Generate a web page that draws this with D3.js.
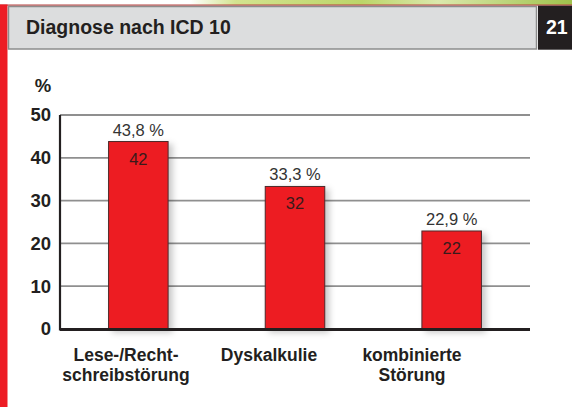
<!DOCTYPE html>
<html>
<head>
<meta charset="utf-8">
<script src="https://cdn.jsdelivr.net/npm/d3@7"></script>
<style>
  html, body { margin: 0; padding: 0; background: #fff; }
  svg { display: block; font-family: "Liberation Sans", Arial, sans-serif; }
</style>
</head>
<body>
<svg id="chart" width="572" height="407"></svg>
<script>
// DATA
const title = "Diagnose nach ICD 10";
const figureNumber = "21";
const unitLabel = "%";
const categories = ["Lese-/Recht-|schreibstörung", "Dyskalkulie", "kombinierte|Störung"];
const percentValues = [43.8, 33.3, 22.9];
const countValues = [42, 32, 22];
const yTicks = [0, 10, 20, 30, 40, 50];

// CANVAS SETUP
const svg = d3.select("#chart");
const W = +svg.attr("width"),
  H = +svg.attr("height");

let margin = { top: 115, right: 42, bottom: 78, left: 60 },
  width = W - margin.left - margin.right,
  height = H - margin.top - margin.bottom;

const defs = svg.append("defs");

const green = defs
  .append("linearGradient")
  .attr("id", "greenStrip")
  .attr("x1", "0%")
  .attr("x2", "100%");
green.append("stop").attr("offset", "0%").attr("stop-color", "#ffffff");
green.append("stop").attr("offset", "12%").attr("stop-color", "#d3e38f");
green.append("stop").attr("offset", "45%").attr("stop-color", "#bcd569");
green.append("stop").attr("offset", "65%").attr("stop-color", "#dbe8ac");
green.append("stop").attr("offset", "100%").attr("stop-color", "#9fc24c");

defs
  .append("filter")
  .attr("id", "barShadow")
  .attr("x", "-20%")
  .attr("y", "-10%")
  .attr("width", "160%")
  .attr("height", "130%")
  .append("feDropShadow")
  .attr("dx", 4)
  .attr("dy", 3)
  .attr("stdDeviation", 3)
  .attr("flood-color", "#000")
  .attr("flood-opacity", 0.22);

// HEADER
svg.append("rect").attr("x", 190).attr("y", 0).attr("width", W - 190).attr("height", 5)
  .attr("fill", "url(#greenStrip)");
svg.append("rect").attr("x", 0).attr("y", 4.5).attr("width", W).attr("height", 1.2)
  .attr("fill", "#b5413f");
svg.append("rect").attr("x", 0).attr("y", 4.5).attr("width", 7.5).attr("height", H - 4.5)
  .attr("fill", "#ed1c24");

svg.append("rect")
  .attr("x", 8.5).attr("y", 6.5).attr("width", 528).attr("height", 42.5)
  .attr("fill", "#dcddde")
  .attr("stroke", "#8c8c8c")
  .attr("stroke-width", 1.5);
svg.append("rect")
  .attr("x", 538).attr("y", 5.7).attr("width", W - 538).attr("height", 44)
  .attr("fill", "#231f20");

svg.append("text")
  .attr("x", 26).attr("y", 33.5)
  .attr("font-size", "19.5px").attr("font-weight", "bold")
  .attr("fill", "#231f20")
  .text(title);
svg.append("text")
  .attr("x", 546).attr("y", 33.5)
  .attr("font-size", "19.5px").attr("font-weight", "bold")
  .attr("fill", "#fff")
  .text(figureNumber);

// SCALES
const xScale = d3.scaleBand()
  .domain(categories)
  .range([0, width])
  .paddingInner(0.62)
  .paddingOuter(0.31);

const labelScale = d3.scalePoint()
  .domain(categories)
  .range([66, 352]);

const yScale = d3.scaleLinear()
  .domain([0, 50])
  .range([height, 0]);

const g = svg.append("g").attr("transform", `translate(${margin.left},${margin.top})`);

// GRID
g.selectAll(".grid")
  .data(yTicks.filter((d) => d > 0))
  .join("line")
  .attr("class", "grid")
  .attr("x1", 0).attr("x2", width)
  .attr("y1", (d) => yScale(d)).attr("y2", (d) => yScale(d))
  .attr("stroke", "#8f8f8f")
  .attr("stroke-width", 1.8);

// Y AXIS
const yAxis = d3.axisLeft(yScale).tickValues(yTicks).tickSize(0).tickPadding(9);
const gy = g.append("g").call(yAxis);
gy.select(".domain").remove();
gy.selectAll("text")
  .attr("font-family", "Liberation Sans, Arial, sans-serif")
  .attr("font-size", "18.5px")
  .attr("font-weight", "bold")
  .attr("fill", "#231f20");

g.append("line")
  .attr("x1", 0).attr("x2", 0)
  .attr("y1", yScale(50)).attr("y2", yScale(0) + 1.5)
  .attr("stroke", "#231f20")
  .attr("stroke-width", 2.2);

svg.append("text")
  .attr("x", 43).attr("y", 92)
  .attr("text-anchor", "middle")
  .attr("font-size", "18.5px").attr("font-weight", "bold")
  .attr("fill", "#231f20")
  .text(unitLabel);

// BARS
const data = categories.map((c, i) => ({
  cat: c,
  pct: percentValues[i],
  n: countValues[i],
}));

g.selectAll(".bar")
  .data(data)
  .join("rect")
  .attr("class", "bar")
  .attr("x", (d) => xScale(d.cat))
  .attr("y", (d) => yScale(d.pct))
  .attr("width", xScale.bandwidth())
  .attr("height", (d) => yScale(0) - yScale(d.pct))
  .attr("fill", "#ed1c24")
  .attr("stroke", "#4d2a2a")
  .attr("stroke-width", 1)
  .attr("filter", "url(#barShadow)");

// baseline
g.append("line")
  .attr("x1", 0).attr("x2", width)
  .attr("y1", yScale(0) + 0.5).attr("y2", yScale(0) + 0.5)
  .attr("stroke", "#231f20")
  .attr("stroke-width", 3);

// VALUE LABELS
g.selectAll(".pct")
  .data(data)
  .join("text")
  .attr("class", "pct")
  .attr("x", (d) => xScale(d.cat) + xScale.bandwidth() / 2)
  .attr("y", (d) => yScale(d.pct) - 6)
  .attr("text-anchor", "middle")
  .attr("font-size", "16.5px")
  .attr("fill", "#333")
  .text((d) => d3.format(".1f")(d.pct).replace(".", ",") + " %");

g.selectAll(".count")
  .data(data)
  .join("text")
  .attr("class", "count")
  .attr("x", (d) => xScale(d.cat) + xScale.bandwidth() / 2)
  .attr("y", (d) => yScale(d.pct) + 23)
  .attr("text-anchor", "middle")
  .attr("font-size", "16.5px")
  .attr("fill", "#3a1a1a")
  .text((d) => d.n);

// CATEGORY LABELS
const catLabels = g.selectAll(".cat")
  .data(categories)
  .join("text")
  .attr("class", "cat")
  .attr("x", (d) => labelScale(d))
  .attr("y", yScale(0) + 32)
  .attr("text-anchor", "middle")
  .attr("font-size", "17.5px")
  .attr("font-weight", "bold")
  .attr("fill", "#231f20");

catLabels.selectAll("tspan")
  .data((d) => d.split("|").map((t) => ({ t, x: labelScale(d) })))
  .join("tspan")
  .attr("x", (d) => d.x)
  .attr("dy", (d, i) => (i === 0 ? 0 : 19.5))
  .text((d) => d.t);
</script>
</body>
</html>
